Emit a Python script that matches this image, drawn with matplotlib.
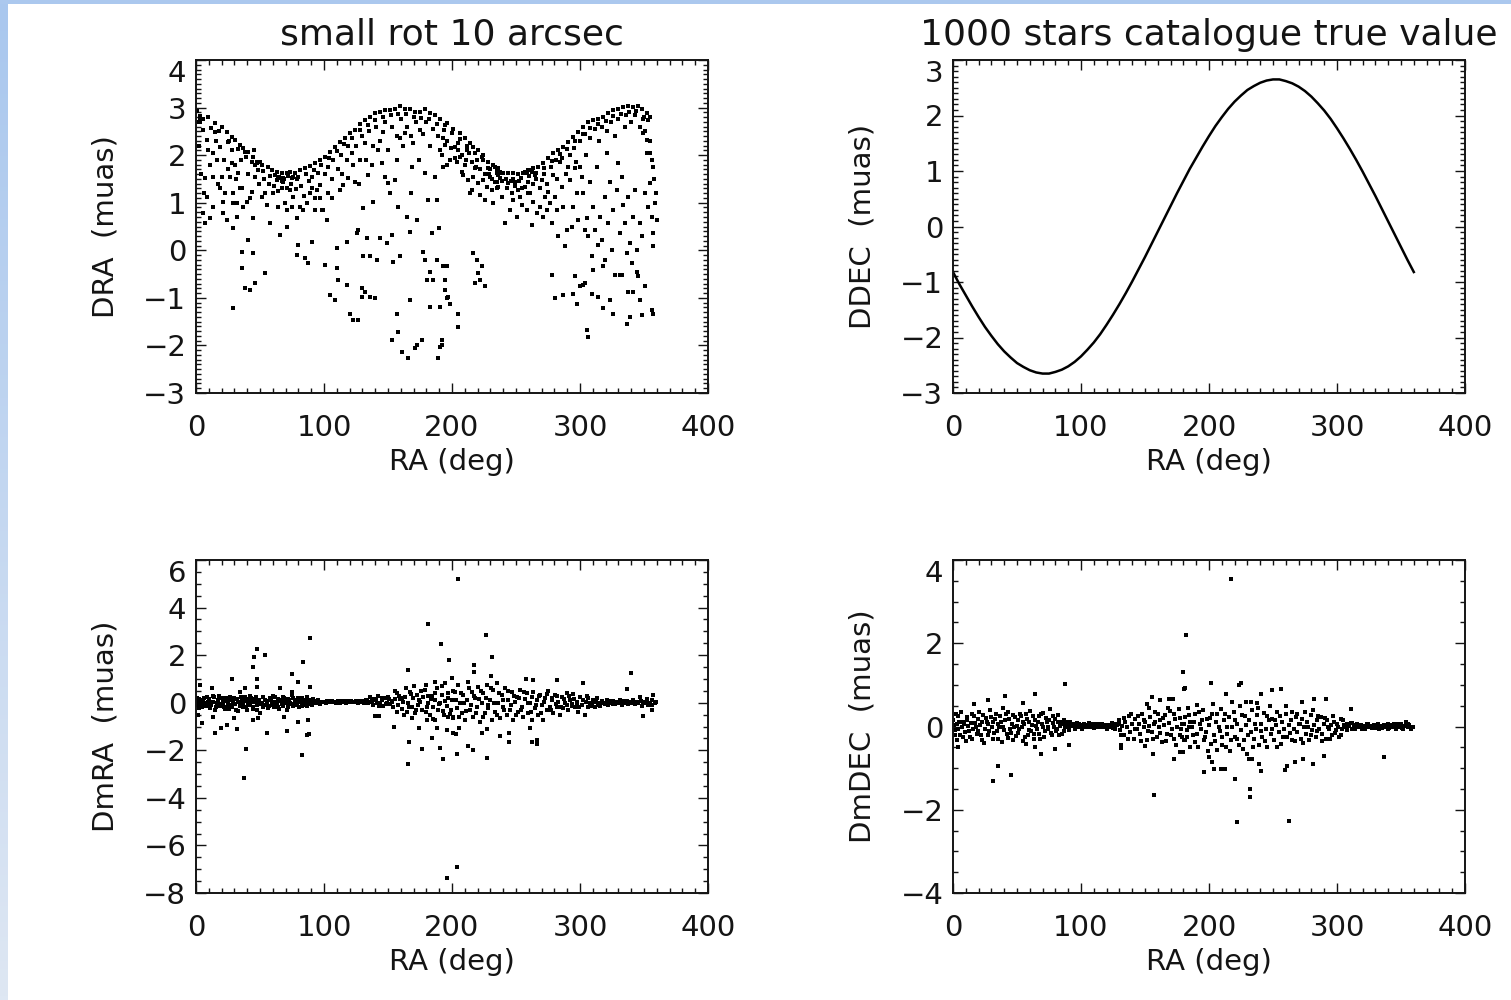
import numpy as np
import matplotlib.pyplot as plt
from matplotlib.colors import LinearSegmentedColormap
from matplotlib.patches import Rectangle
from matplotlib.ticker import MultipleLocator

## Data (RA in deg, residuals in muas)
# top left: DRA, upper envelope of the cloud
dra_upper = [
    (1.0, 2.92), (2.0, 2.70), (3.5, 2.83), (5.7, 2.77), (9.6, 2.81), (14.8, 2.67), (20.0, 2.60),
    (24.0, 2.49), (27.9, 2.39), (30.5, 2.32), (34.4, 2.21), (37.0, 2.14), (40.9, 2.07), (44.8, 1.97),
    (47.4, 1.86), (51.3, 1.79), (56.5, 1.76), (59.1, 1.69), (63.0, 1.65), (66.9, 1.62), (70.8, 1.63),
    (73.4, 1.65), (77.3, 1.62), (81.2, 1.69), (85.1, 1.72), (89.1, 1.77), (93.0, 1.83), (96.9, 1.90),
    (100.8, 1.97), (104.7, 2.07), (108.6, 2.18), (112.5, 2.28), (116.4, 2.35), (120.3, 2.46),
    (124.2, 2.53), (128.1, 2.65), (132.0, 2.74), (136.0, 2.81), (139.8, 2.88), (143.7, 2.91),
    (147.6, 2.95), (151.5, 2.95), (155.5, 2.98), (159.4, 3.03), (163.3, 2.98), (167.2, 2.96),
    (171.1, 2.91), (175.0, 2.91), (178.9, 2.96), (182.8, 2.88), (186.7, 2.84), (190.6, 2.77),
    (194.5, 2.63), (195.8, 2.67), (201.0, 2.56), (206.2, 2.46), (210.1, 2.35), (214.0, 2.25),
    (216.6, 2.18), (220.5, 2.11), (224.5, 2.00), (228.4, 1.86), (232.3, 1.79), (236.2, 1.72),
    (240.1, 1.63), (244.0, 1.62), (247.9, 1.62), (251.8, 1.60), (255.7, 1.63), (259.6, 1.69),
    (263.5, 1.72), (267.4, 1.76), (271.3, 1.83), (275.2, 1.93), (279.1, 2.04), (283.0, 2.11),
    (287.0, 2.18), (290.9, 2.28), (294.8, 2.39), (298.7, 2.49), (302.6, 2.60), (306.5, 2.70),
    (310.4, 2.74), (314.3, 2.77), (318.2, 2.81), (322.1, 2.88), (326.0, 2.95), (329.9, 2.98),
    (333.8, 3.02), (337.7, 3.03), (341.6, 3.02), (345.5, 3.03), (348.1, 2.98),
]
dra_second = [
    (3, 2.73), (12, 2.58), (18, 2.51), (26, 2.30), (33, 2.12), (39, 1.97), (46, 1.79), (52, 1.66),
    (58, 1.57), (64, 1.52), (69, 1.50), (75, 1.51), (80, 1.55), (86, 1.60), (92, 1.68), (98, 1.80),
    (104, 1.95), (110, 2.08), (116, 2.24), (122, 2.37), (128, 2.52), (134, 2.63), (140, 2.74),
    (146, 2.80), (152, 2.85), (158, 2.86), (164, 2.87), (170, 2.80), (176, 2.79), (182, 2.75),
    (188, 2.66), (194, 2.52), (200, 2.47), (206, 2.33), (212, 2.19), (218, 2.04), (224, 1.90),
    (230, 1.71), (236, 1.60), (242, 1.50), (248, 1.49), (254, 1.51), (260, 1.56), (266, 1.63),
    (272, 1.72), (278, 1.87), (284, 2.02), (290, 2.13), (296, 2.30), (302, 2.45), (308, 2.58),
    (314, 2.66), (320, 2.71), (326, 2.82), (332, 2.87), (338, 2.90), (344, 2.92), (350, 2.81),
    (62, 1.58), (65, 1.55), (68, 1.52), (72, 1.56), (76, 1.54), (79, 1.50),
    (233.6, 1.76), (234.9, 1.69), (236.2, 1.58), (237.5, 1.51), (234.9, 1.44), (238.8, 1.62),
    (257.0, 1.65), (258.3, 1.62), (260.9, 1.69), (262.2, 1.65), (264.8, 1.58),
]
dra_fill = [
    (2, 2.2), (4, 1.6), (6, 1.2), (9, 2.1), (11, 1.8), (13, 0.9), (16, 2.3), (17, 1.4), (22, 1.9),
    (23, 1.2), (25, 1.7), (28, 2.1), (31, 1.5), (32, 1.0), (35, 1.9), (36, 1.3), (41, 1.6), (42, 1.1),
    (45, 2.1), (49, 1.4), (53, 1.5), (54, 1.2), (57, 1.4), (61, 1.35), (64, 1.25), (67, 1.45),
    (71, 1.30), (74, 1.40), (78, 1.28), (82, 1.35), (84, 1.15), (88, 1.45), (91, 1.55), (95, 1.62),
    (97, 1.1), (101, 1.6), (103, 1.75), (106, 1.5), (107, 1.9), (111, 1.7), (113, 2.0), (114, 1.6),
    (118, 1.9), (119, 2.2), (123, 1.8), (125, 2.2), (127, 1.4), (130, 2.4), (133, 1.9), (135, 2.5),
    (138, 2.2), (141, 2.6), (144, 2.3), (148, 2.7), (150, 2.1), (153, 2.6), (157, 2.4), (160, 2.75),
    (162, 2.2), (165, 2.6), (168, 2.4), (172, 2.7), (174, 1.9), (177, 2.45), (180, 2.7), (183, 2.2),
    (185, 2.55), (189, 2.4), (191, 2.1), (196, 2.3), (199, 2.15), (202, 1.95), (205, 2.25), (208, 2.0),
    (211, 1.9), (213, 2.05), (216, 1.85), (219, 1.75), (222, 1.7), (226, 1.6), (229, 1.6), (231, 1.5),
    (235, 1.3), (239, 1.45), (243, 1.3), (246, 1.45), (249, 1.35), (252, 1.45), (255, 1.3), (259, 1.2),
    (263, 1.4), (266, 1.5), (269, 1.3), (272, 1.6), (274, 1.4), (277, 1.75), (281, 1.9), (282, 1.5),
    (286, 1.95), (289, 1.6), (292, 2.0), (295, 2.15), (297, 1.85), (300, 2.3), (304, 2.45), (305, 2.0),
    (308, 2.35), (312, 2.55), (315, 2.3), (317, 2.6), (321, 2.5), (324, 2.7), (327, 2.4), (330, 2.75),
    (335, 2.6), (336, 2.85), (340, 2.7), (343, 2.85), (347, 2.6), (349, 2.75), (351, 2.5), (355, 2.3),
    (356, 1.9), (358, 1.5), (359, 1.2),
]
dra_inner = [
    (3.1, 2.70), (5.7, 2.53), (8.3, 2.32), (7.0, 1.51), (8.3, 1.13), (5.7, 0.78), (7.0, 0.57),
    (11.0, 0.67), (13.5, 1.55), (13.5, 2.04), (14.8, 2.49), (16.1, 1.90), (18.7, 2.18), (18.7, 1.30),
    (20.0, 1.55), (20.8, 0.78), (21.3, 1.02), (24.0, 0.64), (25.3, 2.28), (26.6, 1.55), (27.9, 1.83),
    (29.2, 1.20), (29.2, 0.99), (29.2, 0.46), (29.2, -1.22), (30.5, 1.79), (31.8, 0.71), (33.1, 1.62),
    (34.4, 1.30), (35.7, -0.03), (35.7, -0.38), (37.0, 0.92), (38.3, 2.07), (38.3, -0.80),
    (39.6, 1.02), (40.9, 0.22), (42.2, -0.83), (43.5, 1.23), (43.5, 1.86), (44.8, 0.67), (44.8, -0.06),
    (46.1, -0.69), (46.1, 1.55), (47.4, 1.83), (48.7, 1.69), (50.0, 1.86), (51.3, 1.13), (53.9, -0.48),
    (55.2, 0.95), (57.8, 0.57), (60.4, 1.20), (63.0, 1.48), (64.3, 0.92), (65.6, 0.32), (66.9, 1.30),
    (68.2, 1.44), (69.5, 0.99), (70.8, 0.85), (70.8, 0.50), (73.4, 1.27), (74.7, 0.92), (76.0, 1.13),
    (78.6, 0.67), (78.6, -0.10), (79.9, 0.11), (81.2, 0.92), (83.8, 0.85), (85.1, -0.17), (86.4, 0.99),
    (87.7, -0.27), (89.1, 1.20), (90.4, 1.30), (90.9, 0.18), (93.0, 0.85), (93.0, 1.09), (94.3, 1.27),
    (96.9, 1.37), (98.2, 0.85), (99.5, 0.85), (100.8, -0.31), (102.1, 0.64), (103.4, 1.20),
    (104.7, -0.94), (106.0, 1.09), (108.6, -1.05), (109.9, 0.04), (109.9, -0.38), (111.2, -0.62),
    (112.5, 1.27), (115.1, 1.37), (117.7, 0.18), (117.7, -0.73), (119.0, 1.51), (120.3, -1.33),
    (121.6, 2.04), (122.9, -1.47), (124.2, 1.44), (125.5, 0.36), (126.8, -1.47), (126.8, 0.43),
    (128.1, 1.90), (129.4, -0.80), (129.4, -0.98), (130.7, 0.88), (130.7, -0.13), (132.0, 2.25),
    (132.0, -0.87), (133.3, 0.25), (134.6, 1.58), (135.9, -0.13), (135.9, -0.98), (137.2, 1.79),
    (138.5, 1.02), (139.8, -1.01), (141.1, -0.20), (142.4, 2.11), (143.7, 0.25), (145.0, 1.83),
    (146.4, 2.49), (147.6, 1.55), (149.0, 0.15), (150.2, 1.41), (151.5, 1.20), (152.9, 0.32),
    (152.9, -1.89), (154.2, -0.24), (155.5, 1.48), (156.8, 1.90), (156.8, -1.33), (158.1, -1.71),
    (158.1, 0.92), (159.4, 2.35), (159.4, -0.13), (160.7, -2.13), (163.3, 2.46), (164.6, 0.71),
    (165.9, -2.27), (167.2, 0.39), (167.2, -1.05), (167.7, 1.20), (168.5, 1.76), (169.8, 2.25),
    (171.1, -2.06), (172.4, -1.99), (172.4, 0.64), (175.0, 2.53), (176.3, -1.89), (177.6, -0.03),
    (178.9, 1.62), (178.9, -0.20), (180.2, -0.62), (181.5, 1.06), (182.8, -0.45), (182.8, -1.19),
    (184.1, 0.36), (185.4, -0.62), (186.7, 1.55), (188.0, 1.06), (188.0, -0.20), (189.3, -2.27),
    (190.1, 0.46), (190.6, -1.19), (191.9, -1.99), (193.2, 1.76), (194.5, -0.62), (195.8, -0.34),
    (195.8, -1.01),
    (193.2, 2.35), (194.5, 2.21), (198.4, 1.90), (195.8, 1.79), (191.9, 2.00), (202.3, 2.18),
    (203.6, 1.86), (204.9, 2.11), (206.2, 1.97), (207.5, 1.65), (208.8, 1.58), (210.1, 1.79),
    (211.4, 2.11), (212.7, 1.48), (214.0, 1.20), (215.3, 1.27), (216.6, 1.55), (217.9, 1.72),
    (219.2, 1.90), (220.5, 1.41), (221.8, 1.16), (223.1, 1.97), (224.5, 1.48), (225.8, 1.06),
    (227.1, 1.34), (228.4, 1.72), (229.7, 1.55), (231.0, 1.27), (232.3, 0.99), (233.6, 1.44),
    (234.9, 1.62), (236.2, 1.34), (237.5, 1.65), (238.8, 1.13), (241.4, 0.57), (244.0, 1.41),
    (245.3, 0.85), (246.6, 1.20), (247.9, 1.06), (249.2, 1.44), (250.5, 0.71), (251.8, 1.27),
    (253.1, 1.13), (254.4, 0.95), (257.0, 1.34), (258.3, 0.85), (259.6, 1.44), (260.9, 1.20),
    (262.2, 0.53), (263.5, 1.02), (266.1, 0.78), (268.7, 0.92), (270.0, 1.48), (271.3, 0.71),
    (272.6, 1.13), (273.9, 0.85), (275.2, 1.23), (276.5, 0.99), (277.8, 0.57), (279.1, 1.58),
    (280.4, 1.13), (281.7, 0.85), (283.0, 0.29), (284.3, 1.86), (285.6, 1.34), (287.0, 0.92),
    (288.3, 0.08), (289.6, 0.43), (290.9, 1.76), (292.2, 1.48), (293.5, 0.50), (294.8, 0.92),
    (296.1, 1.72), (297.4, 1.20), (298.7, 0.64), (300.0, 1.76), (301.3, 1.55), (302.6, 1.20),
    (303.9, 0.43), (305.2, 0.67), (306.5, 0.29), (307.8, 1.44), (309.1, -0.13), (310.4, 0.92),
    (311.7, 0.43), (313.0, 1.76), (314.3, 0.11), (315.6, 0.71), (316.9, 0.22), (318.2, -0.34),
    (319.5, 1.13), (320.8, 2.04), (322.1, 0.57), (323.4, 1.44), (324.7, 0.01), (326.0, 0.85),
    (327.3, -0.52), (328.6, 1.27), (329.9, 1.83), (331.2, 0.36), (332.5, 1.55), (333.8, 0.95),
    (335.1, 0.57), (336.4, -0.06), (337.7, 1.13), (339.0, 0.15), (340.3, -0.27), (341.6, 0.71),
    (342.9, 1.27), (344.2, 0.01), (345.5, -0.55), (346.8, 0.57), (348.1, 0.29), (349.4, 2.46),
    (350.7, 1.20), (352.0, 2.04), (353.4, 0.92), (354.7, 1.41), (356.0, 0.71), (357.3, 0.36),
    (358.6, 0.99), (359.9, 0.64), (357.3, 0.08), (354.7, 2.81), (352.0, 2.88), (353.4, 2.74),
    (352.0, 2.32), (354.7, 2.04), (357.3, 1.76),
]
dra_lower = [
    (193.2, -0.34), (194.5, -0.83), (197.1, -0.98), (198.4, -1.12), (204.9, -1.33), (204.9, -1.61),
    (191.9, -1.89), (190.6, -2.03), (216.6, -0.06), (219.2, -0.20), (220.5, -0.48), (221.8, -0.62),
    (223.1, -0.34), (225.8, -0.76), (217.9, -0.69), (277.8, -0.52), (280.4, -1.01), (287.0, -0.94),
    (294.8, -0.91), (296.1, -0.55), (297.4, -1.12), (300.0, -0.76), (302.6, -0.73), (303.9, -0.69),
    (305.2, -1.68), (306.5, -1.82), (309.1, -0.91), (310.4, -0.41), (314.3, -0.98), (318.2, -1.22),
    (319.5, -0.20), (323.4, -1.05), (326.0, -1.33), (331.2, -0.52), (332.5, -0.52), (336.4, -1.54),
    (337.7, -0.87), (339.0, -1.40), (341.6, -0.87), (344.2, -0.45), (346.8, -1.05), (348.1, -1.36),
    (350.7, -0.76), (356.0, -1.26), (357.3, -1.33),
]

# top right: DDEC, a single smooth curve
ra_curve = [0, 5, 10, 15, 20, 25, 30, 35, 40, 45, 50, 55, 60, 65, 70, 75, 80, 85, 90, 95, 100,
            105, 110, 115, 120, 125, 130, 135, 140, 145, 150, 155, 160, 165, 170, 175, 180,
            185, 190, 195, 200, 205, 210, 215, 220, 225, 230, 235, 240, 245, 250, 255, 260,
            265, 270, 275, 280, 285, 290, 295, 300, 305, 310, 315, 320, 325, 330, 335, 340,
            345, 350, 355, 360]
ddec_curve = [-0.82, -1.04, -1.24, -1.44, -1.63, -1.81, -1.97, -2.12, -2.25, -2.36, -2.46, -2.53,
              -2.59, -2.63, -2.65, -2.65, -2.62, -2.58, -2.52, -2.44, -2.34, -2.22, -2.09, -1.94,
              -1.77, -1.59, -1.40, -1.20, -0.99, -0.77, -0.55, -0.32, -0.09, 0.14, 0.37, 0.60,
              0.82, 1.04, 1.24, 1.44, 1.63, 1.81, 1.97, 2.12, 2.25, 2.36, 2.46, 2.53, 2.59, 2.63,
              2.65, 2.65, 2.62, 2.58, 2.52, 2.44, 2.34, 2.22, 2.09, 1.94, 1.77, 1.59, 1.40, 1.20,
              0.99, 0.77, 0.55, 0.32, 0.09, -0.14, -0.37, -0.60, -0.82]

# bottom left: DmRA
dmra_band = [
    (0.5, 0.05), (1.3, -0.09), (2.3, 0.14), (3.1, -0.02), (4.4, -0.19), (5.7, 0.12), (7.0, 0.00),
    (8.3, 0.23), (9.6, -0.09), (10.9, -0.23), (12.2, 0.05), (13.5, 0.28), (14.8, -0.30), (16.1, -0.02),
    (17.5, 0.12), (18.8, -0.14), (20.1, 0.19), (21.4, 0.00), (22.7, -0.28), (24.0, 0.09), (25.3, -0.09),
    (26.6, 0.26), (27.9, -0.19), (29.2, 0.05), (30.5, -0.05), (31.8, 0.14), (33.1, -0.33), (34.4, 0.00),
    (35.7, 0.12), (37.0, -0.16), (38.3, 0.23), (39.6, -0.30), (40.9, -0.02), (42.2, 0.28), (43.5, 0.05),
    (44.8, -0.19), (46.1, 0.14), (47.4, -0.09), (48.7, 0.09), (50.0, -0.45), (51.3, 0.00),
    (52.6, -0.16), (53.9, 0.12), (55.2, -0.02), (56.5, -0.23), (57.8, 0.19), (59.1, 0.05), (60.4, -0.09),
    (61.7, 0.26), (63.0, 0.00), (64.3, -0.19), (65.6, 0.12), (66.9, -0.05), (68.2, 0.23), (69.5, 0.05),
    (70.8, -0.30), (72.1, 0.14), (73.4, -0.02), (74.7, 0.33), (76.0, -0.14), (77.3, 0.09),
    (78.6, -0.02), (79.9, 0.19), (81.2, 0.05), (82.5, -0.14), (83.8, 0.12), (85.1, 0.00), (86.4, 0.23),
    (87.7, -0.05), (89.1, 0.09), (90.4, 0.05), (91.7, 0.14), (93.0, -0.02), (94.3, 0.06), (95.6, 0.12),
    (96.9, -0.05), (98.2, 0.04), (99.5, 0.05), (101.3, 0.00), (103.4, 0.07), (105.5, 0.02),
    (107.3, 0.05), (109.1, -0.01), (111.2, 0.06), (113.3, 0.03), (115.1, 0.09), (116.9, 0.00),
    (119.0, 0.05), (121.1, 0.07), (122.9, 0.02), (125.0, 0.06), (126.8, -0.01), (128.9, 0.09),
    (130.7, 0.03), (132.5, 0.12), (134.6, -0.02), (136.0, 0.23), (137.2, 0.05), (138.5, -0.09),
    (139.8, 0.14), (141.1, -0.02), (142.4, 0.28), (143.7, 0.00), (145.0, 0.12), (146.4, -0.14),
    (147.6, 0.19), (149.0, 0.00), (150.2, 0.26), (151.5, -0.05), (152.9, 0.09), (154.2, -0.19),
    (155.5, 0.14), (156.8, 0.40), (158.1, -0.09), (159.4, 0.14), (160.7, -0.28), (162.0, 0.05),
    (163.3, 0.26), (164.6, -0.37), (165.9, -0.02), (167.2, 0.47), (168.5, -0.19), (169.8, 0.19),
    (171.1, -0.45), (172.4, 0.33), (173.7, -0.09), (175.0, 0.05), (176.3, -0.30), (177.6, 0.23),
    (178.9, 0.54), (180.2, -0.16), (181.5, 0.00), (182.8, -0.52), (184.1, 0.28), (185.4, -0.19),
    (186.7, 0.12), (188.0, 0.61), (189.3, -0.30), (190.6, 0.00), (191.9, 0.33), (193.2, -0.33),
    (194.5, 0.09), (195.8, -0.14), (197.1, 0.42), (198.4, -0.47), (199.7, 0.12), (201.0, -0.59),
    (202.3, 0.47), (203.6, -0.23), (204.9, 0.75), (206.2, -0.02), (207.5, -0.42), (208.8, 0.33),
    (210.1, -0.73), (211.4, 0.12), (212.7, 0.89), (214.0, -0.30), (215.3, 0.47), (216.6, -0.59),
    (217.9, 0.19), (219.2, -0.16), (220.5, 0.68), (221.8, -0.79), (223.1, -0.02), (224.4, 0.40),
    (225.7, -0.45), (227.0, 0.75), (228.3, -0.23), (229.6, 0.12), (231.0, -0.73), (232.3, 0.54),
    (233.6, -0.37), (234.9, 0.84), (236.2, -0.02), (237.5, -0.65), (238.8, 0.33), (240.1, -0.16),
    (241.4, 0.61), (242.7, -0.52), (244.0, 0.12), (245.3, -0.30), (246.6, 0.47), (247.9, -0.73),
    (249.2, 0.05), (250.5, 0.26), (251.8, -0.37), (253.1, 0.54), (254.4, -0.16), (255.7, -0.59),
    (257.0, 0.14), (258.3, 0.40), (259.6, -0.45), (260.9, -0.02), (262.2, -0.73), (263.5, 0.47),
    (264.8, -0.23), (266.1, 0.12), (267.4, -0.52), (268.7, 0.33), (270.0, -0.09), (271.3, -0.73),
    (272.6, 0.19), (273.9, -0.30), (275.2, 0.51), (276.5, -0.16), (277.8, 0.12), (279.1, -0.42),
    (280.4, 0.33), (281.7, -0.16), (283.0, 0.05), (284.3, -0.52), (285.6, 0.26), (286.9, -0.23),
    (288.2, -0.02), (289.5, 0.42), (290.8, -0.30), (292.1, 0.12), (293.4, -0.14), (294.7, 0.37),
    (296.0, -0.19), (297.4, 0.05), (298.7, -0.37), (300.0, 0.23), (301.3, -0.09), (302.6, 0.12),
    (303.9, -0.52), (305.2, 0.28), (306.5, -0.16), (307.8, 0.00), (309.1, -0.09), (310.4, 0.12),
    (311.7, -0.19), (313.0, 0.19), (314.3, -0.02), (315.6, -0.14), (316.9, 0.09), (318.2, 0.00),
    (319.5, -0.05), (320.8, 0.12), (322.1, -0.09), (323.4, 0.05), (324.7, -0.02), (326.0, 0.07),
    (327.3, -0.05), (328.6, 0.03), (329.9, -0.01), (331.2, 0.10), (332.5, -0.08), (333.8, 0.02),
    (335.1, -0.02), (336.4, 0.07), (337.7, -0.05), (339.0, 0.03), (340.3, -0.01), (341.6, 0.12),
    (342.9, -0.07), (344.2, 0.03), (345.5, -0.02), (346.8, 0.23), (348.1, -0.14), (349.4, 0.05),
    (350.7, -0.02), (352.0, 0.14), (353.3, -0.11), (354.6, 0.00), (355.9, 0.12), (357.2, 0.33),
    (358.5, -0.02), (359.3, 0.05),
]
dmra_fill = [
    (1, 0.18), (2.6, -0.22), (4, 0.08), (5, -0.05), (6.5, 0.2), (8, -0.14), (9, 0.02), (10.5, 0.15),
    (11.8, -0.1), (13, 0.04), (14.2, 0.22), (15.5, -0.17), (17, 0.06), (18, 0.3), (19.5, -0.04),
    (21, 0.12), (22, -0.18), (23.5, 0.2), (25, 0.0), (26, -0.25), (27.3, 0.1), (28.5, -0.08),
    (30, 0.18), (31, -0.3), (32.5, 0.03), (34, -0.12), (35, 0.25), (36.5, -0.04), (38, 0.08),
    (39, -0.2), (40.5, 0.15), (42, -0.1), (43, 0.2), (44.5, -0.28), (46, 0.02), (47, 0.22), (48, -0.3),
    (49.5, 0.1), (51, -0.06), (52, 0.25), (54, -0.1), (55.5, 0.06), (57, -0.14), (58.5, 0.1),
    (60, 0.3), (61, -0.2), (62.5, 0.03), (64, 0.16), (65, -0.28), (66.5, 0.08), (68, -0.12), (69, 0.2),
    (70.5, 0.0), (72, -0.2), (73, 0.12), (74.5, -0.06), (76, 0.2), (77, 0.02), (78, -0.1), (79, 0.1),
    (80.5, -0.18), (82, 0.05), (83, 0.18), (84.5, -0.08), (86, 0.1), (87, -0.15), (88.5, 0.04),
    (90, 0.12), (91, -0.08), (92.5, 0.06), (94, -0.03), (95, 0.1), (97.5, 0.02),
    (100.4, 0.03), (102.3, 0.06), (104.4, 0.01), (106.4, 0.07), (108.2, 0.02), (110.1, 0.05),
    (112.2, 0.0), (114.2, 0.06), (116, 0.03), (118, 0.08), (120, 0.01), (122, 0.05), (124, 0.03),
    (126, 0.08), (127.8, 0.02), (129.8, 0.06), (131.6, -0.01), (133.5, 0.08), (135.3, 0.04),
    (137.8, 0.15), (140.5, 0.1), (143, -0.12), (145.7, 0.2), (148.3, -0.05), (151, 0.16), (153.5, 0.04),
    (157, -0.4), (158.8, 0.3), (161, 0.2), (162.8, -0.5), (164, 0.6), (166.5, -0.2), (168, 0.35),
    (170.5, 0.7), (172, -0.3), (174.4, 0.1), (176, 0.5), (179.5, -0.4), (181, 0.3), (183.5, 0.15),
    (185, -0.7), (187, 0.4), (189.8, -0.05), (192.5, 0.7), (194, -0.5), (196.5, 0.2), (199, -0.3),
    (200.5, 0.5), (202.8, 0.1), (205.5, -0.6), (207, 0.4), (209.5, 0.0), (211, -0.35), (213.5, 0.6),
    (215, -0.1), (217, 0.3), (218.5, -0.45), (221, 0.15), (222.5, 0.5), (224, -0.6), (226.5, 0.2),
    (228, -0.1), (230.5, 0.6), (233, 0.0), (235, -0.5), (236.8, 0.4), (239.5, 0.1), (241, -0.3),
    (243.5, 0.5), (245.8, -0.1), (248.5, 0.3), (250, -0.5), (252.5, 0.2), (254, -0.3), (256.5, 0.45),
    (259, 0.0), (261.5, -0.4), (262.8, 0.25), (265.5, -0.1), (267.8, 0.3), (269.4, -0.45), (272, 0.05),
    (274.5, 0.35), (277, -0.3), (278.5, 0.2), (281, -0.05), (282.4, 0.3), (285, -0.2), (287.6, 0.15),
    (290, -0.1), (291.5, 0.3), (294, -0.05), (295.3, 0.15), (298, 0.0), (299.3, -0.2),
    (304.5, 0.05), (306, 0.18), (308.5, -0.12), (311, 0.04), (312.4, 0.1), (314.9, -0.08),
    (317.5, 0.06), (320, -0.04), (321.5, 0.05), (324, 0.08), (325.4, -0.06), (328, 0.05),
    (330.5, 0.02), (334.4, 0.06), (338.4, 0.0), (343.5, 0.05), (347.5, 0.08), (351.3, 0.02),
    (356.5, -0.08),
]
dmra_outliers = [
    (89.1, 2.71), (47.9, 2.25), (45.6, 1.91), (53.9, 2.01), (44.8, 1.49), (83.9, 1.73), (74.7, 1.21),
    (47.9, 0.99), (27.9, 0.99), (80.0, 0.89), (38.3, 0.61), (89.1, 0.68), (47.4, 0.64), (34.4, 0.47),
    (12.2, 0.63), (65.6, 0.61), (74.7, 0.47), (3.1, 0.75), (155.5, 0.49), (165.4, 1.38), (181.5, 3.31),
    (191.4, 2.47), (197.6, 1.80), (200.3, 1.03), (186.7, 0.89), (194.5, 0.84), (179.4, 0.75),
    (14.8, -1.26), (19.5, -1.08), (24.5, -0.94), (31.8, -1.12), (38.8, -1.96), (30.0, -0.65),
    (55.7, -1.26), (70.8, -1.17), (82.5, -2.20), (80.0, -0.79), (87.0, -1.36), (88.3, -1.31),
    (87.8, -0.73), (44.8, -0.73), (48.7, -0.65), (4.4, -0.86), (1.8, -0.52), (13.5, -0.59),
    (69.0, -0.59), (139.8, -0.56), (143.2, -0.56), (154.4, -1.03), (166.7, -1.64), (165.4, -2.57),
    (176.3, -1.96), (184.6, -1.50), (188.5, -1.08), (190.6, -1.89), (192.7, -2.38), (195.8, -1.14),
    (200.5, -1.29), (168.5, -0.65), (174.2, -1.08), (180.7, -0.73), (186.7, -0.73), (197.1, -0.59),
    (201.0, -0.63), (204.7, 5.20), (203.6, -6.90), (196.0, -7.35), (37.4, -3.15),
    (226.5, 2.85), (231.5, 1.91), (217.4, 1.59), (217.4, 1.31), (230.2, 1.12), (257.8, 0.99),
    (263.5, 0.96), (281.7, 0.96), (339.5, 1.24), (336.9, 0.58), (302.6, 0.82), (203.6, -2.15),
    (212.7, -1.82), (216.6, -1.99), (227.0, -2.34), (202.8, -1.33), (223.1, -1.29), (237.5, -1.38),
    (244.5, -1.29), (244.5, -1.66), (262.2, -1.64), (266.6, -1.57), (266.6, -1.73), (260.9, -1.07),
    (205.7, -1.07), (227.0, -1.12), (349.4, -0.54), (355.9, -0.30),
]

# bottom right: DmDEC
dmdec_band = [
    (0.5, 0.03), (0.3, 0.15), (1.6, -0.09), (2.9, 0.07), (4.2, 0.25), (5.5, -0.21), (6.8, -0.02),
    (8.1, 0.11), (9.4, -0.13), (10.7, 0.22), (12.0, 0.01), (13.3, -0.25), (14.6, 0.30), (15.9, -0.05),
    (17.2, 0.09), (18.5, -0.17), (19.8, 0.17), (21.1, 0.03), (22.4, -0.33), (23.7, 0.27), (25.0, -0.07),
    (26.3, 0.11), (27.7, -0.21), (29.0, 0.39), (30.3, -0.01), (31.6, -0.29), (32.9, 0.17), (34.2, -0.10),
    (35.5, 0.07), (36.8, 0.25), (38.1, -0.37), (39.4, -0.02), (40.7, 0.15), (42.0, -0.19), (43.3, 0.35),
    (44.6, -0.07), (45.9, 0.07), (47.2, -0.33), (48.5, 0.22), (49.8, 0.01), (51.1, -0.15), (52.4, 0.31),
    (53.7, -0.02), (55.0, 0.11), (56.4, -0.25), (57.7, 0.17), (59.0, -0.09), (60.3, 0.38), (61.6, 0.03),
    (62.9, -0.18), (64.2, 0.15), (65.5, -0.05), (66.8, 0.25), (68.1, -0.29), (69.4, 0.07), (70.7, 0.33),
    (72.0, -0.10), (73.3, 0.11), (74.6, -0.02), (75.9, 0.41), (77.2, -0.21), (78.5, 0.09), (79.8, 0.19),
    (81.1, -0.07), (82.4, 0.27), (83.7, 0.01), (85.1, -0.17), (86.4, 0.15), (87.7, -0.02), (89.0, 0.07),
    (90.3, -0.09), (91.6, 0.11), (92.9, 0.01), (94.2, 0.06), (95.5, -0.05), (96.8, 0.09), (98.1, -0.01),
    (99.4, 0.03), (100.7, -0.07), (102.0, 0.07), (103.3, 0.01), (104.6, -0.02), (105.9, 0.09),
    (107.2, -0.01), (108.5, 0.03), (109.8, -0.03), (111.1, 0.06), (112.4, 0.00), (113.7, -0.02),
    (115.1, 0.03), (116.4, 0.07), (117.7, -0.02), (119.0, 0.01), (120.3, -0.05), (121.6, 0.04),
    (122.9, -0.02), (124.2, 0.09), (125.5, -0.01), (126.8, -0.07), (128.1, 0.03), (129.4, 0.15),
    (130.7, -0.09), (132.0, 0.01), (133.3, -0.21), (134.6, 0.11), (135.9, -0.02), (137.2, 0.25),
    (138.5, -0.13), (139.8, 0.06), (141.1, -0.29), (142.4, 0.19), (143.7, -0.05), (145.1, 0.07),
    (146.4, -0.17), (147.7, 0.30), (149.0, -0.02), (150.3, 0.11), (151.6, -0.33), (152.9, 0.01),
    (154.2, 0.23), (155.5, -0.13), (156.8, 0.07), (158.1, 0.35), (159.4, -0.25), (160.7, -0.02),
    (162.0, 0.15), (163.3, -0.37), (164.6, 0.03), (165.9, 0.27), (167.2, -0.17), (168.5, 0.09),
    (169.8, 0.38), (171.1, -0.07), (172.4, -0.29), (173.7, 0.17), (175.1, -0.02), (176.4, 0.43),
    (177.7, -0.21), (179.0, 0.07), (180.3, -0.33), (181.6, 0.23), (182.9, -0.25), (184.2, -0.01),
    (179.0, -0.25), (180.3, 0.07), (181.6, -0.33), (182.9, -0.09), (184.2, 0.27), (185.5, -0.49),
    (186.8, -0.01), (188.1, 0.11), (189.4, -0.37), (190.7, -0.17), (192.1, 0.35), (193.4, -0.05),
    (194.7, 0.15), (196.0, -0.33), (197.3, -0.13), (198.6, 0.19), (199.9, 0.03), (201.2, -0.41),
    (202.5, 0.31), (203.8, -0.21), (205.1, 0.11), (206.4, -0.57), (207.7, -0.02), (209.0, 0.43),
    (210.3, -0.25), (211.6, 0.15), (212.9, -0.49), (214.2, -0.17), (215.5, 0.23), (216.8, -0.33),
    (218.1, -0.01), (219.4, 0.35), (220.7, -0.25), (222.1, 0.07), (223.4, -0.45), (224.7, -0.09),
    (226.0, 0.27), (227.3, -0.33), (228.6, 0.03), (229.9, -0.65), (231.2, 0.15), (232.5, -0.13),
    (233.8, 0.39), (235.1, -0.29), (236.4, -0.05), (237.7, 0.27), (239.0, -0.45), (240.3, 0.07),
    (241.6, -0.25), (242.9, 0.33), (244.2, -0.07), (245.5, -0.49), (246.8, 0.15), (248.1, -0.17),
    (249.4, 0.19), (250.8, -0.33), (252.1, 0.03), (253.4, 0.35), (254.7, -0.13), (256.0, -0.41),
    (257.3, 0.11), (258.6, -0.05), (259.9, 0.30), (261.2, -0.25), (262.5, 0.03), (263.8, 0.15),
    (265.1, -0.33), (266.4, -0.05), (267.7, 0.23), (269.0, -0.13), (270.3, 0.07), (271.6, -0.29),
    (272.9, 0.19), (274.2, -0.02), (275.5, -0.17), (276.8, 0.11), (278.1, -0.33), (279.5, 0.27),
    (280.8, -0.09), (282.1, 0.03), (283.4, -0.25), (284.7, 0.15), (286.0, -0.05), (287.3, 0.23),
    (288.6, -0.17), (289.9, 0.07), (291.2, -0.29), (292.5, 0.15), (293.8, -0.07), (295.1, 0.03),
    (296.4, -0.21), (297.7, 0.11), (299.0, -0.09), (300.3, 0.07), (301.6, -0.25), (302.9, 0.17),
    (304.2, -0.05), (305.5, 0.03), (306.8, -0.02), (308.2, 0.07), (309.5, 0.01), (310.8, 0.09),
    (312.1, -0.05), (313.4, 0.03), (314.7, -0.01), (316.0, 0.07), (317.3, -0.02), (318.6, 0.03),
    (319.9, -0.07), (321.2, 0.01), (322.5, -0.02), (323.8, 0.05), (325.1, -0.01), (326.4, 0.01),
    (327.7, -0.04), (329.0, 0.03), (330.3, -0.01), (331.6, 0.04), (332.9, -0.05), (334.2, 0.01),
    (335.5, -0.02), (336.8, 0.03), (338.2, -0.01), (339.5, 0.07), (340.8, -0.04), (342.1, 0.01),
    (343.4, -0.02), (344.7, 0.06), (346.0, -0.07), (347.3, 0.01), (348.6, -0.02), (349.9, 0.07),
    (351.2, -0.05), (352.5, 0.01), (353.8, 0.12), (355.1, -0.02), (356.4, 0.03), (357.7, -0.07),
    (359.0, -0.01),
]
dmdec_fill = [
    (1.2, -0.2), (2.2, 0.3), (3.6, -0.05), (5, 0.12), (6.2, 0.35), (7.5, -0.25), (8.8, 0.05),
    (10, -0.35), (11.3, 0.15), (12.6, -0.1), (13.9, 0.08), (15.2, -0.3), (16.6, 0.25), (17.8, 0.0),
    (19.2, -0.12), (20.4, 0.35), (21.7, -0.2), (23, 0.1), (24.4, -0.4), (25.6, 0.2), (27, 0.05),
    (28.3, -0.1), (29.6, 0.22), (31, 0.1), (32.3, -0.15), (33.5, 0.3), (34.9, -0.3), (36.2, 0.0),
    (37.5, 0.12), (38.8, 0.45), (40, -0.08), (41.4, 0.3), (42.7, -0.28), (44, 0.18), (45.3, -0.15),
    (46.6, 0.28), (47.9, 0.0), (49.1, -0.22), (50.5, 0.15), (51.8, -0.05), (53, 0.25), (54.3, -0.35),
    (55.7, 0.05), (57, 0.3), (58.3, -0.2), (59.6, 0.1), (61, -0.12), (62.2, 0.25), (63.5, -0.3),
    (64.9, 0.02), (66.2, 0.12), (67.4, -0.18), (68.7, 0.3), (70, 0.0), (71.3, -0.25), (72.6, 0.2),
    (73.9, -0.05), (75.2, 0.15), (76.5, -0.15), (77.8, 0.25), (79.1, 0.0), (80.4, -0.12), (81.7, 0.1),
    (83, -0.2), (84.4, 0.12), (85.7, 0.05), (87, -0.1), (88.3, 0.1), (89.6, 0.02), (91, -0.04),
    (93.5, 0.04), (96.2, 0.02), (98.8, 0.06), (101.3, -0.02), (103.9, 0.04), (106.5, 0.0),
    (109.1, 0.05), (111.8, -0.01), (114.4, 0.05), (117, 0.0), (119.6, 0.04), (122.2, 0.02),
    (124.8, -0.04), (127.4, 0.05), (130, 0.06), (131.4, -0.2), (133.9, 0.2), (136.6, -0.3),
    (139.1, 0.3), (141.8, -0.05), (144.4, 0.25), (147, -0.35), (149.6, 0.15), (152.2, -0.1),
    (153.5, 0.45), (156.1, -0.3), (157.5, 0.1), (160, 0.3), (161.4, -0.15), (163.9, 0.2),
    (166.6, -0.35), (167.9, 0.45), (170.5, -0.2), (173, 0.3), (174.5, -0.45), (177.1, 0.2),
    (178.4, -0.05), (183.5, 0.45), (185, 0.1), (187.5, -0.2), (189, 0.3), (191.5, -0.5), (193, 0.05),
    (195.5, 0.4), (197, -0.25), (199.5, -0.6), (201, 0.2), (203.2, 0.55), (204.5, -0.35), (206, 0.3),
    (208.5, -0.1), (210, -0.45), (212.5, 0.3), (214, 0.0), (216.5, -0.6), (218, 0.6), (220.5, 0.15),
    (222, -0.3), (224.5, 0.5), (226.7, -0.55), (228, 0.25), (230.5, -0.2), (232.8, 0.6), (234.5, -0.5),
    (236, 0.05), (238.5, 0.45), (240.8, -0.1), (243.5, -0.35), (245, 0.25), (247.5, 0.5), (249, -0.05),
    (251.5, 0.15), (253, -0.5), (255.5, 0.25), (258, -0.25), (260.5, 0.5), (263, -0.15), (264.5, 0.35),
    (266.8, -0.35), (268.5, 0.3), (271, 0.05), (273.5, -0.4), (275, 0.35), (277.5, 0.0), (280, -0.2),
    (281.4, 0.4), (284, -0.1), (285.5, 0.25), (288, -0.35), (290.5, 0.2), (293, 0.0), (294.5, -0.3),
    (297, 0.25), (298.5, -0.15), (301, 0.0), (303.5, -0.2), (305, 0.15), (307.5, -0.08), (309, 0.05),
    (311.5, 0.08), (314, -0.06), (316.7, 0.04), (319.2, 0.02), (321.8, -0.05), (324.4, 0.06),
    (327, 0.0), (329.6, -0.03), (332.2, 0.05), (334.8, -0.04), (337.5, 0.02), (340.1, -0.06),
    (342.7, 0.04), (345.3, 0.0), (348, 0.05), (350.6, -0.03), (353.2, 0.02), (355.8, 0.06),
    (358.4, 0.0),
]
dmdec_outliers = [
    (87.7, 1.01), (64.2, 0.78), (40.7, 0.73), (16.4, 0.53), (27.7, 0.63), (54.5, 0.57), (179.8, 1.30),
    (181.6, 0.93), (155.5, 0.71), (161.5, 0.63), (168.5, 0.65), (171.9, 0.65), (151.6, 0.55),
    (35.0, -0.95), (31.0, -1.32), (45.4, -1.17), (68.9, -0.65), (79.8, -0.53), (64.2, -0.49),
    (91.0, -0.45), (131.2, -0.45), (131.2, -0.51), (156.3, -0.67), (156.8, -1.65), (173.0, -0.79),
    (177.2, -0.62), (179.5, -0.62), (4.2, -0.50), (3.4, -0.33), (150.3, -0.47), (57.1, -0.43),
    (217.1, 3.55), (181.8, 2.20),
    (201.7, 1.05), (224.7, 1.05), (223.4, 0.99), (249.5, 0.87), (256.0, 0.91), (221.5, -2.29),
    (262.5, -2.27), (231.7, -1.50), (232.0, -1.69), (220.2, -1.27), (196.0, -1.10), (203.8, -1.01),
    (209.0, -1.01), (212.4, -1.03), (240.3, -1.07), (259.4, -1.05), (261.2, -0.95), (267.2, -0.85),
    (273.5, -0.79), (281.5, -0.91), (289.9, -0.70), (336.8, -0.73), (231.2, -0.77), (233.8, -0.79),
    (239.0, -0.89), (202.5, -0.85), (199.9, -0.74), (180.8, 0.91), (282.1, 0.67), (291.2, 0.65),
    (190.7, 0.51), (212.9, 0.78), (240.3, 0.78), (237.2, 0.57), (228.6, 0.60), (272.9, 0.60),
    (310.8, 0.43),
]

## Plotting
plt.rcParams['font.family'] = 'DejaVu Sans'
ink = '#141414'
fs = 21

fig = plt.figure(figsize=(15.11, 10), dpi=100)

# light blue frame on the left and top
strip = fig.add_axes([0, 0, 8 / 1511, 1])
strip.imshow(np.linspace(0, 1, 256)[:, None], aspect='auto',
             cmap=LinearSegmentedColormap.from_list('frame', ['#a9c7ee', '#dee7f3']))
strip.axis('off')
fig.add_artist(Rectangle((0, 1 - 4 / 1000), 1, 4 / 1000, transform=fig.transFigure,
                         color='#abc8ee', lw=0))

w, h = 512 / 1511, 0.333
ax_tl = fig.add_axes([196 / 1511, 0.607, w, h])
ax_tr = fig.add_axes([953 / 1511, 0.607, w, h])
ax_bl = fig.add_axes([196 / 1511, 0.107, w, h])
ax_br = fig.add_axes([953 / 1511, 0.107, w, h])


def style(ax, ylo, yhi, ystep, yminor, ylabel):
    ax.set_xlim(0, 400)
    ax.set_ylim(ylo, yhi)
    ax.set_xticks([0, 100, 200, 300, 400])
    ax.set_yticks(np.arange(ylo, yhi + ystep / 2, ystep))
    ax.xaxis.set_minor_locator(MultipleLocator(10))
    ax.yaxis.set_minor_locator(MultipleLocator(yminor))
    ax.tick_params(which='both', direction='in', top=True, right=True, colors=ink,
                   labelsize=fs, width=1.0)
    ax.tick_params(which='major', length=7.5)
    ax.tick_params(which='minor', length=3.3)
    ax.tick_params(axis='x', pad=15)
    ax.tick_params(axis='y', pad=7)
    for s in ax.spines.values():
        s.set_linewidth(1.4)
        s.set_color(ink)
    ax.get_yticklabels()[-1].set_verticalalignment('top')
    ax.set_xlabel('RA (deg)', fontsize=fs, color=ink)
    ax.xaxis.set_label_coords(0.5, -0.165)
    ax.set_ylabel(ylabel, fontsize=fs, color=ink)
    ax.yaxis.set_label_coords(-0.15, 0.5)


def dots(ax, pts):
    pts = np.array(pts)
    ax.plot(pts[:, 0], pts[:, 1], ls='none', marker='s', ms=2.3, mew=0, color='black')


for p in (dra_upper, dra_second, dra_fill, dra_inner, dra_lower):
    dots(ax_tl, p)
style(ax_tl, -3, 4, 1, 0.1, 'DRA  (muas)')
ax_tl.set_title('small rot 10 arcsec', fontsize=26, color=ink, pad=11)

ax_tr.plot(ra_curve, ddec_curve, color='black', lw=1.8)
style(ax_tr, -3, 3, 1, 0.1, 'DDEC  (muas)')
ax_tr.set_title('1000 stars catalogue true value', fontsize=26, color=ink, pad=11)

for p in (dmra_band, dmra_fill, dmra_outliers):
    dots(ax_bl, p)
style(ax_bl, -8, 6, 2, 0.5, 'DmRA  (muas)')

for p in (dmdec_band, dmdec_fill, dmdec_outliers):
    dots(ax_br, p)
style(ax_br, -4, 4, 2, 0.5, 'DmDEC  (muas)')

fig.savefig('out.png', dpi=100)
